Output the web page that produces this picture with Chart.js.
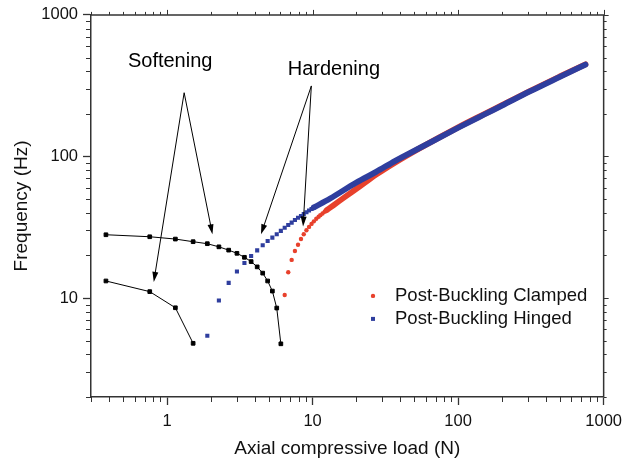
<!DOCTYPE html>
<html>
<head>
<meta charset="utf-8">
<script src="https://cdn.jsdelivr.net/npm/chart.js@4.4.0/dist/chart.umd.min.js"></script>
<style>
  html, body { margin: 0; padding: 0; background: #fff; }
  #wrap { width: 629px; height: 466px; }
</style>
</head>
<body>
<div id="wrap"><canvas id="freqChart" width="629" height="466"></canvas></div>
<script>
// values: load in N, frequency in Hz
const softUpperLoad = [0.38, 0.76, 1.14, 1.51, 1.89, 2.27, 2.65, 3.02, 3.40, 3.78, 4.16, 4.54, 4.91, 5.29, 5.67, 6.05];
const softUpperFreq = [28.0, 27.1, 26.1, 25.0, 24.2, 23.0, 21.8, 20.7, 19.4, 18.1, 16.6, 15.0, 13.2, 11.2, 8.5, 4.75];
const softLowerLoad = [0.38, 0.76, 1.14, 1.51];
const softLowerFreq = [13.2, 11.1, 8.54, 4.79];

// hinged: separate dots, then the dots merge into a solid band
const hingedDotLoad = [1.89, 2.27, 2.65, 3.02, 3.40, 3.78, 4.16, 4.54, 4.91, 5.29, 5.67, 6.05, 6.43, 6.80, 7.18, 7.56, 7.94, 8.32, 8.69, 9.07, 9.45, 9.83, 10.2];
const hingedDotFreq = [5.42, 9.6, 12.8, 15.4, 17.7, 19.8, 21.7, 23.6, 25.3, 26.7, 28.2, 29.8, 31.4, 32.8, 34.1, 35.6, 36.9, 38.0, 39.2, 40.4, 41.5, 42.6, 43.7];
const hingedBandLoad = [10.2, 13.2, 20, 27.3, 37, 55, 100, 150, 200, 311, 500, 750];
const hingedBandFreq = [43.7, 50.5, 65.5, 77.8, 93.1, 115.4, 159.4, 197, 228.6, 288, 365, 446];

// clamped
const clampedDotLoad = [6.43, 6.80, 7.18, 7.56, 7.94, 8.32, 8.69, 9.07, 9.45, 9.83, 10.2, 10.6, 11.0, 11.3, 11.7, 12.1, 12.5];
const clampedDotFreq = [10.5, 15.2, 18.6, 21.5, 23.8, 26.1, 28.2, 30.1, 31.8, 33.4, 34.8, 36.3, 37.5, 38.5, 39.6, 40.7, 41.8];
const clampedBandLoad = [12.5, 13.9, 16.3, 19.0, 23.4, 27.3, 37, 55, 100, 150, 200, 311, 500, 750];
const clampedBandFreq = [41.8, 45.2, 50.9, 57.0, 66.4, 74.4, 90.8, 115, 160.5, 198.5, 230.5, 290, 367.5, 448];

const xMajor = [1, 10, 100, 1000];
const yMajor = [10, 100, 1000];
const xMinor = [0.3, 0.4, 0.5, 0.6, 0.7, 0.8, 0.9, 2, 3, 4, 5, 6, 7, 8, 9, 20, 30, 40, 50, 60, 70, 80, 90, 200, 300, 400, 500, 600, 700, 800, 900];
const yMinor = [2, 3, 4, 5, 6, 7, 8, 9, 20, 30, 40, 50, 60, 70, 80, 90, 200, 300, 400, 500, 600, 700, 800, 900];

const seriesNames = ['Post-Buckling Clamped', 'Post-Buckling Hinged'];

const RED = '#e8412c';
const BLUE = '#2f3e9e';
const FONT = '"Liberation Sans", Arial, sans-serif';

const pts = (xs, ys) => xs.map((v, i) => ({x: v, y: ys[i]}));

// annotation arrows, in data units
const notes = [
  {text: 'Softening', at: [1.05, 470], apex: [1.31, 282], tips: [[0.81, 13.0], [2.05, 28.2]]},
  {text: 'Hardening', at: [14.0, 412], apex: [9.8, 315], tips: [[4.42, 28.2], [8.6, 32.0]]}
];

const extras = {
  id: 'extras',
  afterDraw(chart) {
    const {ctx, chartArea: a, scales: {x, y}} = chart;
    ctx.save();
    ctx.strokeStyle = '#333';
    ctx.lineWidth = 1.5;
    ctx.beginPath();
    ctx.moveTo(a.left, a.top);
    ctx.lineTo(a.right, a.top);
    ctx.lineTo(a.right, a.bottom);
    ctx.stroke();

    ctx.lineWidth = 1;
    ctx.beginPath();
    xMinor.forEach(v => {
      const px = Math.round(x.getPixelForValue(v)) + 0.5;
      ctx.moveTo(px, a.bottom); ctx.lineTo(px, a.bottom + 5);
      ctx.moveTo(px, a.top); ctx.lineTo(px, a.top - 3);
    });
    xMajor.forEach(v => {
      const px = Math.round(x.getPixelForValue(v)) + 0.5;
      ctx.moveTo(px, a.top); ctx.lineTo(px, a.top - 5);
    });
    yMinor.forEach(v => {
      const py = Math.round(y.getPixelForValue(v)) + 0.5;
      ctx.moveTo(a.left, py); ctx.lineTo(a.left - 5, py);
      ctx.moveTo(a.right, py); ctx.lineTo(a.right + 3, py);
    });
    yMajor.forEach(v => {
      const py = Math.round(y.getPixelForValue(v)) + 0.5;
      ctx.moveTo(a.right, py); ctx.lineTo(a.right + 5, py);
    });
    ctx.stroke();

    // arrows and labels
    ctx.strokeStyle = '#000';
    ctx.fillStyle = '#000';
    ctx.lineWidth = 1;
    ctx.font = '20px ' + FONT;
    ctx.textAlign = 'center';
    ctx.textBaseline = 'middle';
    notes.forEach(n => {
      ctx.fillText(n.text, x.getPixelForValue(n.at[0]), y.getPixelForValue(n.at[1]));
      const ax = x.getPixelForValue(n.apex[0]), ay = y.getPixelForValue(n.apex[1]);
      n.tips.forEach(t => {
        const tx = x.getPixelForValue(t[0]), ty = y.getPixelForValue(t[1]);
        const ang = Math.atan2(ty - ay, tx - ax);
        ctx.beginPath();
        ctx.moveTo(ax, ay);
        ctx.lineTo(tx - 6 * Math.cos(ang), ty - 6 * Math.sin(ang));
        ctx.stroke();
        ctx.beginPath();
        ctx.moveTo(tx, ty);
        ctx.lineTo(tx - 10 * Math.cos(ang) + 3 * Math.sin(ang), ty - 10 * Math.sin(ang) - 3 * Math.cos(ang));
        ctx.lineTo(tx - 10 * Math.cos(ang) - 3 * Math.sin(ang), ty - 10 * Math.sin(ang) + 3 * Math.cos(ang));
        ctx.closePath();
        ctx.fill();
      });
    });

    // legend inside the plot
    const lx = a.left + 282, ly = a.top + 281;
    ctx.font = '18.5px ' + FONT;
    ctx.textAlign = 'left';
    ctx.fillStyle = RED;
    ctx.beginPath();
    ctx.arc(lx, ly, 2.2, 0, Math.PI * 2);
    ctx.fill();
    ctx.fillStyle = BLUE;
    ctx.fillRect(lx - 2, ly + 23 - 2, 4, 4);
    ctx.fillStyle = '#111';
    ctx.fillText(seriesNames[0], lx + 22, ly);
    ctx.fillText(seriesNames[1], lx + 22, ly + 23);
    ctx.restore();
  }
};

const dots = (data, color, style, r) => ({
  data, showLine: false, pointStyle: style, pointRadius: r, pointHoverRadius: r,
  backgroundColor: color, borderColor: color, borderWidth: 0
});
const band = (data, color) => ({
  data, showLine: true, pointRadius: 0, borderColor: color, borderWidth: 5.8,
  borderCapStyle: 'round', borderJoinStyle: 'round', cubicInterpolationMode: 'monotone', fill: false
});

const ctx = document.getElementById('freqChart').getContext('2d');
new Chart(ctx, {
  type: 'scatter',
  data: {
    datasets: [
      {
        data: pts(softUpperLoad, softUpperFreq), showLine: true, borderColor: '#000', borderWidth: 1,
        pointStyle: 'rect', pointRadius: 2.6, backgroundColor: '#000'
      },
      {
        data: pts(softLowerLoad, softLowerFreq), showLine: true, borderColor: '#000', borderWidth: 1,
        pointStyle: 'rect', pointRadius: 2.6, backgroundColor: '#000'
      },
      dots(pts(hingedDotLoad, hingedDotFreq), BLUE, 'rect', 2.9),
      band(pts(hingedBandLoad, hingedBandFreq), BLUE),
      dots(pts(clampedDotLoad, clampedDotFreq), RED, 'circle', 2.2),
      band(pts(clampedBandLoad, clampedBandFreq), RED)
    ]
  },
  options: {
    responsive: false,
    animation: false,
    layout: { padding: { top: 14, right: 18, left: 0, bottom: 0 } },
    plugins: { legend: { display: false }, tooltip: { enabled: false } },
    scales: {
      x: {
        type: 'logarithmic', min: 0.3, max: 1000,
        afterBuildTicks: s => { s.ticks = xMajor.map(v => ({value: v})); },
        afterFit: s => { s.height = 69; },
        ticks: { color: '#111', padding: 7, maxRotation: 0, font: { family: FONT, size: 16.5 }, callback: v => String(v) },
        grid: { drawOnChartArea: false, drawTicks: true, tickLength: 8, tickColor: '#333', tickWidth: 1.3 },
        border: { color: '#333', width: 1.5 },
        title: { display: true, text: 'Axial compressive load (N)', color: '#111', font: { family: FONT, size: 19 }, padding: { top: 0, bottom: 6 } }
      },
      y: {
        type: 'logarithmic', min: 2, max: 1000,
        afterBuildTicks: s => { s.ticks = yMajor.map(v => ({value: v})); },
        afterFit: s => { s.width = 91; },
        ticks: { color: '#111', padding: 5, font: { family: FONT, size: 16.5 }, callback: v => String(v) },
        grid: { drawOnChartArea: false, drawTicks: true, tickLength: 8, tickColor: '#333', tickWidth: 1.3 },
        border: { color: '#333', width: 1.5 },
        title: { display: true, text: 'Frequency (Hz)', color: '#111', font: { family: FONT, size: 19 }, padding: { top: 10, bottom: 0 } }
      }
    }
  },
  plugins: [extras]
});
</script>
</body>
</html>
